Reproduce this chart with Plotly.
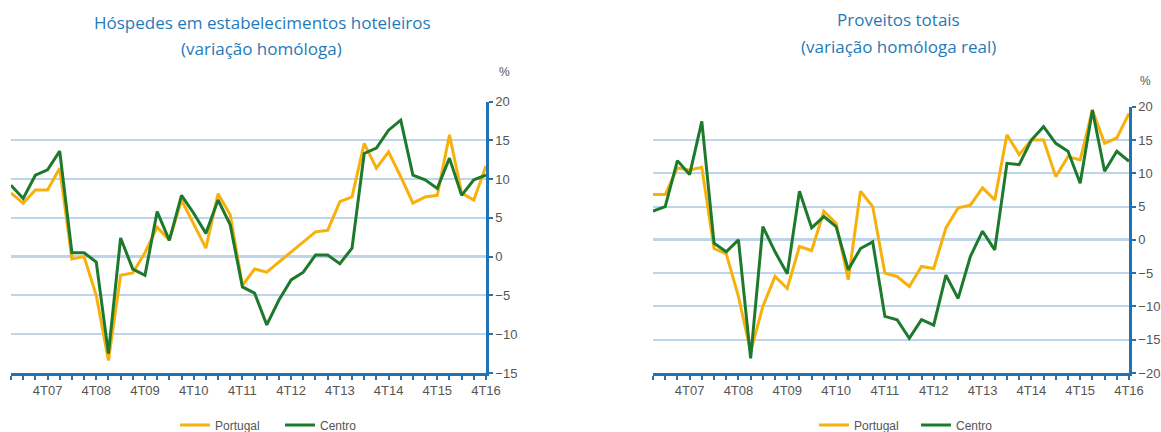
import plotly.graph_objects as go

# quarters 1T07 .. 4T16
quarters = [f"{q}T{y:02d}" for y in range(7, 17) for q in range(1, 5)]

# Hóspedes em estabelecimentos hoteleiros (variação homóloga, %)
hosp_portugal = [8.2, 6.9, 8.6, 8.6, 11.4, -0.3, 0.0, -5.0, -13.4, -2.4,
                 -2.1, 0.5, 3.8, 2.1, 7.3, 4.3, 1.1, 8.1, 5.4, -3.7,
                 -1.6, -2.0, -0.7, 0.6, 1.8, 3.2, 3.4, 7.1, 7.7, 14.6,
                 11.4, 13.5, 10.3, 6.9, 7.7, 7.9, 15.7, 8.2, 7.3, 11.7]
hosp_centro = [9.2, 7.5, 10.5, 11.2, 13.6, 0.5, 0.5, -0.7, -12.5, 2.4,
               -1.6, -2.4, 5.8, 2.1, 7.9, 5.6, 3.0, 7.3, 4.1, -3.9,
               -4.7, -8.8, -5.6, -3.0, -2.0, 0.2, 0.2, -0.9, 1.1, 13.3,
               14.0, 16.3, 17.6, 10.5, 9.9, 8.8, 12.7, 7.9, 9.9, 10.5]

# Proveitos totais (variação homóloga real, %)
prov_portugal = [6.8, 6.8, 10.8, 10.5, 10.9, -1.3, -2.1, -8.5, -16.8, -10.0,
                 -5.5, -7.3, -1.0, -1.6, 4.3, 2.5, -6.0, 7.3, 5.0, -5.0,
                 -5.5, -7.0, -4.0, -4.3, 1.8, 4.8, 5.2, 7.8, 6.0, 15.8,
                 12.8, 15.0, 15.0, 9.5, 12.5, 12.0, 19.5, 14.5, 15.3, 19.0]
prov_centro = [4.3, 5.0, 11.9, 9.8, 17.8, -0.5, -1.8, 0.0, -17.8, 2.0,
               -1.8, -5.1, 7.3, 1.8, 3.5, 2.0, -4.5, -1.3, -0.3, -11.5,
               -12.0, -14.8, -12.0, -12.8, -5.3, -8.8, -2.5, 1.3, -1.5, 11.5,
               11.3, 15.0, 17.0, 14.5, 13.3, 8.5, 19.5, 10.3, 13.3, 11.8]

ORANGE = '#f7b10c'
GREEN = '#1d7a2c'
AXIS = '#2173b3'
GRID = '#bcd5ea'
TITLE = '#1f7ab8'
TXT = '#555555'

W, H = 1161, 432


def px_x(p):
    return p / W


def px_y(p):
    return 1 - p / H


fig = go.Figure()

fig.add_trace(go.Scatter(x=quarters, y=hosp_portugal, name='Portugal', mode='lines',
                         line=dict(color=ORANGE, width=3), xaxis='x', yaxis='y', legend='legend'))
fig.add_trace(go.Scatter(x=quarters, y=hosp_centro, name='Centro', mode='lines',
                         line=dict(color=GREEN, width=3), xaxis='x', yaxis='y', legend='legend'))
fig.add_trace(go.Scatter(x=quarters, y=prov_portugal, name='Portugal', mode='lines',
                         line=dict(color=ORANGE, width=3), xaxis='x2', yaxis='y2', legend='legend2'))
fig.add_trace(go.Scatter(x=quarters, y=prov_centro, name='Centro', mode='lines',
                         line=dict(color=GREEN, width=3), xaxis='x2', yaxis='y2', legend='legend2'))

ticktext = [q if q.startswith('4T') else '' for q in quarters]
xcommon = dict(type='category', range=[0, len(quarters) - 1], tickvals=quarters, ticktext=ticktext,
               ticks='outside', ticklen=4, tickwidth=2, tickcolor=AXIS, automargin=False,
               showline=True, linecolor=AXIS, linewidth=2.5, showgrid=False, zeroline=False,
               tickfont=dict(family='Liberation Sans', size=13, color=TXT), fixedrange=True)
ycommon = dict(side='right', dtick=5, ticks='outside', ticklen=4, tickwidth=2, tickcolor=AXIS,
               showline=True, linecolor=AXIS, linewidth=2.5, showgrid=True, gridcolor=GRID, gridwidth=2,
               zeroline=True, zerolinecolor=GRID, zerolinewidth=2.5, automargin=False,
               tickfont=dict(family='Liberation Sans', size=13, color=TXT), fixedrange=True)

legend_common = dict(orientation='h', yanchor='middle', y=px_y(425), xanchor='left',
                     font=dict(family='Liberation Sans', size=12, color=TXT),
                     itemwidth=30, tracegroupgap=0, bgcolor='rgba(0,0,0,0)')

fig.update_layout(
    width=W, height=H,
    margin=dict(l=0, r=0, t=0, b=0, autoexpand=False),
    paper_bgcolor='white', plot_bgcolor='white',
    xaxis=dict(domain=[px_x(11), px_x(486)], anchor='y', **xcommon),
    yaxis=dict(domain=[px_y(373), px_y(101.5)], anchor='x', range=[-15, 20], **ycommon),
    xaxis2=dict(domain=[px_x(653), px_x(1129)], anchor='y2', **xcommon),
    yaxis2=dict(domain=[px_y(373), px_y(106.7)], anchor='x2', range=[-20, 20], **ycommon),
    legend=dict(x=px_x(175), entrywidth=60, **legend_common),
    legend2=dict(x=px_x(814), entrywidth=57, **legend_common),
)

titles = [
    ('Hóspedes em estabelecimentos hoteleiros', 262, 22),
    ('(variação homóloga)', 261, 48),
    ('Proveitos totais', 898, 20),
    ('(variação homóloga real)', 898, 47),
]
for text, cx, cy in titles:
    fig.add_annotation(text=text, x=px_x(cx), y=px_y(cy), xref='paper', yref='paper',
                       xanchor='center', yanchor='middle', showarrow=False,
                       font=dict(family='Open Sans', size=17, color=TITLE))

for cx, cy in [(504, 72), (1145, 81)]:
    fig.add_annotation(text='%', x=px_x(cx), y=px_y(cy), xref='paper', yref='paper',
                       xanchor='center', yanchor='middle', showarrow=False,
                       font=dict(family='Liberation Sans', size=12, color=TXT))

# drop the page's default body margin so the figure fills the window exactly
fig.write_html("out.html", config={'displayModeBar': False},
               post_script="document.body.style.margin='0';document.body.style.overflow='hidden';")
